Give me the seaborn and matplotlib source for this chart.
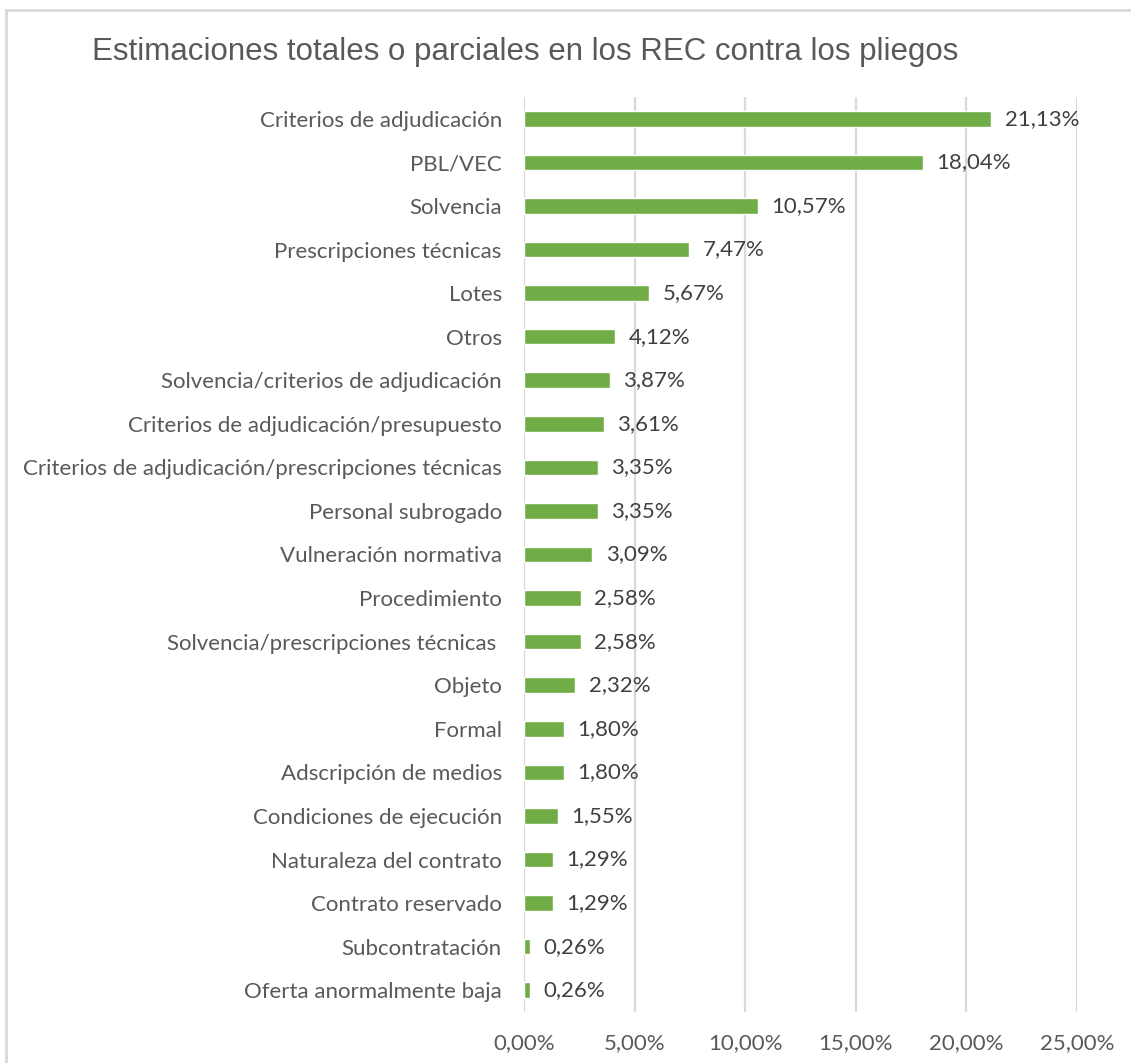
import matplotlib.pyplot as plt
import seaborn as sns
import pandas as pd
from matplotlib.patches import Rectangle

# Data
categories = ['Criterios de adjudicación', 'PBL/VEC', 'Solvencia', 'Prescripciones técnicas',
              'Lotes', 'Otros', 'Solvencia/criterios de adjudicación',
              'Criterios de adjudicación/presupuesto',
              'Criterios de adjudicación/prescripciones técnicas', 'Personal subrogado',
              'Vulneración normativa', 'Procedimiento', 'Solvencia/prescripciones técnicas ',
              'Objeto', 'Formal', 'Adscripción de medios', 'Condiciones de ejecución',
              'Naturaleza del contrato', 'Contrato reservado', 'Subcontratación',
              'Oferta anormalmente baja']
percentages = [21.13, 18.04, 10.57, 7.47, 5.67, 4.12, 3.87, 3.61, 3.35, 3.35, 3.09,
               2.58, 2.58, 2.32, 1.80, 1.80, 1.55, 1.29, 1.29, 0.26, 0.26]
xticks = [0, 5, 10, 15, 20, 25]

title = 'Estimaciones totales o parciales en los REC contra los pliegos'

df = pd.DataFrame({'cat': categories, 'pct': percentages})

sns.set_style('white')
plt.rcParams['font.family'] = ['Lato', 'DejaVu Sans']

W, H = 1131, 1063
fig = plt.figure(figsize=(W / 100, H / 100), dpi=100)
ax = fig.add_axes([524 / W, 1 - 1012 / H, (1077 - 524) / W, (1012 - 97) / H])

sns.barplot(data=df, x='pct', y='cat', orient='h', color='#70AD47', saturation=1,
            width=0.36, ax=ax, zorder=3)

ax.set_xlim(0, 25)
ax.set_ylim(len(categories) - 0.5, -0.5)
ax.set_xticks(xticks)
ax.set_xticklabels([f'{t:.2f}%'.replace('.', ',') for t in xticks])
ax.grid(axis='x', color='#D9D9D9', linewidth=1.6, zorder=0)
ax.set_axisbelow(True)
for s in ax.spines.values():
    s.set_visible(False)
ax.tick_params(axis='x', length=0, pad=15, labelsize=16, labelcolor='#595959')
ax.tick_params(axis='y', length=0, pad=16, labelsize=16, labelcolor='#595959')
ax.set_xlabel('')
ax.set_ylabel('')

for i, v in enumerate(percentages):
    ax.text(v + 0.6, i, f'{v:.2f}%'.replace('.', ','), va='center', ha='left',
            fontsize=16, color='#404040')

fig.text(525 / W, 1 - 52 / H, title, ha='center', va='center', fontsize=22.5,
         color='#595959', family=['Liberation Sans', 'DejaVu Sans'])

# chart frame (only top and left edges visible in the crop)
fig.patches.append(Rectangle((6 / W, -0.1), 1.2, 1 - 10 / H + 0.1, transform=fig.transFigure,
                             fill=False, edgecolor='#D9D9D9', linewidth=2))

fig.savefig('out.png', dpi=100)
